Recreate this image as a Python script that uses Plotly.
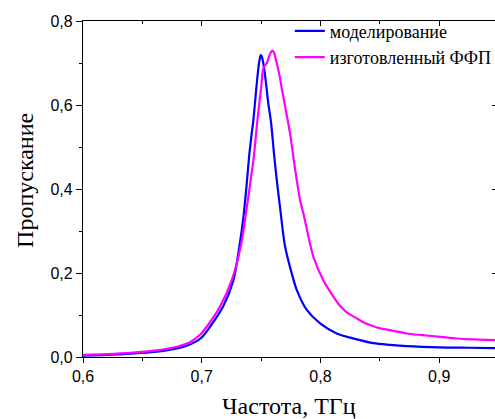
import plotly.graph_objects as go

# моделирование (blue)
sim_freq = [0.600, 0.620, 0.640, 0.660, 0.680, 0.690, 0.699, 0.707, 0.718, 0.7267,
            0.7317, 0.735, 0.7375, 0.740, 0.742, 0.7435, 0.745, 0.7465, 0.748, 0.749,
            0.7497, 0.7505, 0.7515, 0.753, 0.7545, 0.756, 0.7584, 0.761, 0.7632, 0.766,
            0.7702, 0.7758, 0.780, 0.7885, 0.7997, 0.8137, 0.8306, 0.8446, 0.8586, 0.8727,
            0.900, 0.925, 0.950]
sim_trans = [0.003, 0.005, 0.008, 0.012, 0.021, 0.030, 0.044, 0.072, 0.120, 0.183,
             0.263, 0.330, 0.400, 0.480, 0.530, 0.564, 0.610, 0.655, 0.695, 0.712,
             0.719, 0.716, 0.705, 0.678, 0.643, 0.605, 0.558, 0.480, 0.421, 0.355,
             0.263, 0.199, 0.160, 0.112, 0.080, 0.056, 0.042, 0.033, 0.029, 0.026,
             0.023, 0.022, 0.021]

# изготовленный ФФП (magenta)
fab_freq = [0.600, 0.620, 0.640, 0.660, 0.680, 0.690, 0.699, 0.7042, 0.7154, 0.7253,
            0.7328, 0.7379, 0.7407, 0.744, 0.7469, 0.750, 0.7519, 0.7548, 0.757, 0.7585,
            0.7598, 0.761, 0.7625, 0.7654, 0.7674, 0.771, 0.7744, 0.779, 0.7828, 0.7856,
            0.794, 0.8024, 0.8109, 0.8165, 0.8222, 0.8306, 0.8361, 0.8446, 0.8502, 0.8586,
            0.8727, 0.886, 0.9008, 0.915, 0.9288, 0.940, 0.950]
fab_trans = [0.005, 0.007, 0.010, 0.015, 0.025, 0.035, 0.054, 0.072, 0.120, 0.183,
             0.263, 0.355, 0.410, 0.480, 0.564, 0.640, 0.687, 0.700, 0.718, 0.727,
             0.729, 0.724, 0.708, 0.672, 0.640, 0.585, 0.532, 0.440, 0.374, 0.342,
             0.239, 0.183, 0.144, 0.122, 0.106, 0.092, 0.083, 0.073, 0.068, 0.064,
             0.056, 0.052, 0.048, 0.044, 0.042, 0.041, 0.040]

x_title = "Частота, ТГц"
y_title = "Пропускание"
names = ["моделирование", "изготовленный ФФП"]

fig = go.Figure()
fig.add_trace(go.Scatter(x=sim_freq, y=sim_trans, mode="lines", name=names[0],
                         line=dict(color="#0000FF", width=2.2, shape="spline", smoothing=0.8)))
fig.add_trace(go.Scatter(x=fab_freq, y=fab_trans, mode="lines", name=names[1],
                         line=dict(color="#FF00FF", width=2.2, shape="spline", smoothing=0.8)))
# invisible helper for mirrored axes
fig.add_trace(go.Scatter(x=[0.6], y=[0], xaxis="x2", yaxis="y2", mode="markers",
                         marker=dict(opacity=0), showlegend=False, hoverinfo="skip"))

tickfont = dict(family="Liberation Sans, Arial, sans-serif", size=16, color="black")
serif = "Liberation Serif, Times New Roman, serif"

fig.update_layout(
    width=495, height=419,
    margin=dict(l=83, r=0, t=21, b=62, autoexpand=False),
    paper_bgcolor="white", plot_bgcolor="white",
    separators=", ",
    showlegend=True,
    legend=dict(x=0.502, y=1.025, xanchor="left", yanchor="top",
                font=dict(family=serif, size=18, color="black"),
                bgcolor="rgba(0,0,0,0)", borderwidth=0, tracegroupgap=0,
                itemwidth=30),
    xaxis=dict(range=[0.6, 0.947], tick0=0.6, dtick=0.1, tickformat=".1f",
               ticks="outside", ticklen=5, tickwidth=1.3, tickcolor="black",
               showline=True, linecolor="black", linewidth=1.3,
               showgrid=False, zeroline=False, tickfont=tickfont,
               minor=dict(ticks="outside", dtick=0.05, tick0=0.6, ticklen=3,
                          tickwidth=1.3, tickcolor="black", showgrid=False)),
    xaxis2=dict(overlaying="x", matches="x", side="top", showticklabels=False,
                ticks="inside", ticklen=5, tickwidth=1.3, tickcolor="black",
                tick0=0.6, dtick=0.1,
                showline=True, linecolor="black", linewidth=1.3,
                showgrid=False, zeroline=False,
                minor=dict(ticks="inside", dtick=0.05, tick0=0.6, ticklen=3,
                           tickwidth=1.3, tickcolor="black", showgrid=False)),
    yaxis=dict(range=[0, 0.8], tick0=0, dtick=0.2, tickformat=".1f",
               ticks="outside", ticklen=6, tickwidth=1.3, tickcolor="black",
               showline=True, linecolor="black", linewidth=1.3,
               showgrid=False, zeroline=False, tickfont=tickfont,
               minor=dict(ticks="outside", dtick=0.1, tick0=0, ticklen=3,
                          tickwidth=1.3, tickcolor="black", showgrid=False)),
    yaxis2=dict(overlaying="y", matches="y", side="right", showticklabels=False,
                ticks="inside", ticklen=3, tickwidth=1.3, tickcolor="black",
                tick0=0, dtick=0.2,
                showline=False, showgrid=False, zeroline=False),
    annotations=[
        dict(text=x_title, xref="paper", yref="paper", x=0.5, y=-0.146,
             xanchor="center", yanchor="middle", showarrow=False,
             font=dict(family=serif, size=24, color="black")),
        dict(text=y_title, xref="paper", yref="paper", x=-0.1408, y=0.527,
             xanchor="center", yanchor="middle", textangle=-90, showarrow=False,
             font=dict(family=serif, size=24, color="black")),
    ],
)

fig.write_html("out.html", config={"displayModeBar": False},
               post_script="document.body.style.margin='0';document.body.style.overflow='hidden';")
